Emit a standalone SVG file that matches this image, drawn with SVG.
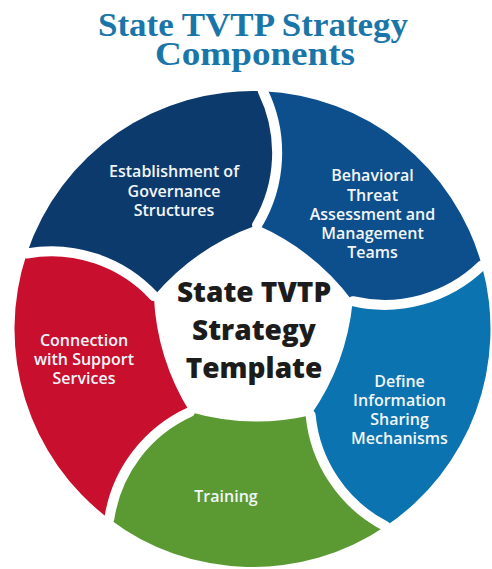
<svg xmlns="http://www.w3.org/2000/svg" width="492" height="569" viewBox="0 0 492 569">
  <style>
    .title { font-family: "Liberation Serif", "Times New Roman", serif; font-weight: 700; font-size: 33px; fill: #1a76a9; text-anchor: middle; }
    .center { font-family: "Open Sans", "Noto Sans", sans-serif; font-weight: 800; font-size: 28px; fill: #1c1c1c; text-anchor: middle; }
    .lbl { font-family: "Open Sans", "Noto Sans", sans-serif; font-weight: 600; font-size: 16px; fill: #f2f6fa; text-anchor: middle; }
    .gap { fill: none; stroke: #ffffff; stroke-width: 10; stroke-linecap: round; }
  </style>
  <rect width="492" height="569" fill="#ffffff"/>

  <g id="title">
    <text class="title" x="253" y="36" textLength="310" lengthAdjust="spacingAndGlyphs">State TVTP Strategy</text>
    <text class="title" x="255" y="65" textLength="200" lengthAdjust="spacingAndGlyphs">Components</text>
  </g>

  <g id="governance">
    <path fill="#0d3a6c" d="M26.80,253.48 A238,238 0 0 1 262.88,91.23 A140,140 0 0 1 257.04,225.10 A240,240 0 0 0 153.87,296.00 A140,140 0 0 0 26.80,253.48 Z"/>
    <text class="lbl" x="174" y="177">Establishment of</text>
    <text class="lbl" x="174" y="196.5">Governance</text>
    <text class="lbl" x="174" y="216">Structures</text>
  </g>

  <g id="behavioral">
    <path fill="#0c4f8c" d="M262.88,91.23 A238,238 0 0 1 481.84,265.40 A140,140 0 0 1 352.72,301.21 A240,240 0 0 0 257.04,225.10 A140,140 0 0 0 262.88,91.23 Z"/>
    <text class="lbl" x="372.5" y="181">Behavioral</text>
    <text class="lbl" x="372.5" y="200.5">Threat</text>
    <text class="lbl" x="372.5" y="220">Assessment and</text>
    <text class="lbl" x="372.5" y="239">Management</text>
    <text class="lbl" x="372.5" y="258">Teams</text>
  </g>

  <g id="information">
    <path fill="#0b74b0" d="M481.84,265.40 A238,238 0 0 1 385.59,526.31 A140,140 0 0 1 310.66,415.22 A240,240 0 0 0 352.72,301.21 A140,140 0 0 0 481.84,265.40 Z"/>
    <text class="lbl" x="399.5" y="387">Define</text>
    <text class="lbl" x="399.5" y="406">Information</text>
    <text class="lbl" x="399.5" y="425">Sharing</text>
    <text class="lbl" x="399.5" y="444">Mechanisms</text>
  </g>

  <g id="training">
    <path fill="#5b9a33" d="M385.59,526.31 A238,238 0 0 1 109.27,519.08 A140,140 0 0 1 189.91,412.06 A240,240 0 0 0 310.66,415.22 A140,140 0 0 0 385.59,526.31 Z"/>
    <text class="lbl" x="226" y="502">Training</text>
  </g>

  <g id="support">
    <path fill="#c8102e" d="M109.27,519.08 A238,238 0 0 1 26.80,253.48 A140,140 0 0 1 153.87,296.00 A240,240 0 0 0 189.91,412.06 A140,140 0 0 0 109.27,519.08 Z"/>
    <text class="lbl" x="84" y="346">Connection</text>
    <text class="lbl" x="84" y="365">with Support</text>
    <text class="lbl" x="84" y="384">Services</text>
  </g>

  <g id="connectors">
    <path class="gap" d="M262.88,91.23 A140,140 0 0 1 257.04,225.10"/>
    <path class="gap" d="M481.84,265.40 A140,140 0 0 1 352.72,301.21"/>
    <path class="gap" d="M385.59,526.31 A140,140 0 0 1 310.66,415.22"/>
    <path class="gap" d="M109.27,519.08 A140,140 0 0 1 189.91,412.06"/>
    <path class="gap" d="M26.80,253.48 A140,140 0 0 1 153.87,296.00"/>
  </g>

  <g id="center">
    <text class="center" x="254" y="302">State TVTP</text>
    <text class="center" x="254" y="340">Strategy</text>
    <text class="center" x="254" y="378">Template</text>
  </g>
</svg>
